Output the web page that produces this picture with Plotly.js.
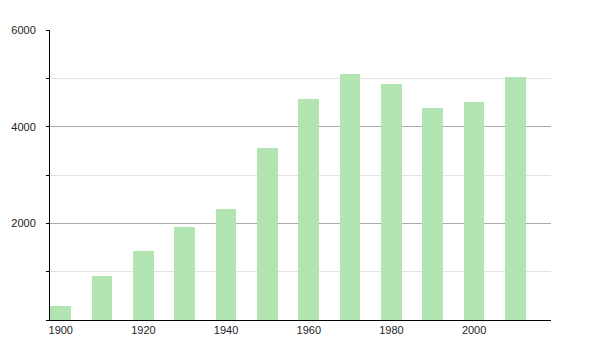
<!DOCTYPE html>
<html>
<head>
<meta charset="utf-8">
<script src="https://cdn.plot.ly/plotly-3.0.1.min.js"></script>
<style>html,body{margin:0;padding:0;background:#fff;}#chart{width:600px;height:350px;}</style>
</head>
<body>
<div id="chart"></div>
<script>
var years = [1900, 1910, 1920, 1930, 1940, 1950, 1960, 1970, 1980, 1990, 2000, 2010];
var population = [290, 910, 1427, 1923, 2289, 3557, 4571, 5088, 4881, 4385, 4509, 5026];
var xTickYears = [1900, 1920, 1940, 1960, 1980, 2000];
var yTickValues = [2000, 4000, 6000];

var trace = {
  type: 'bar',
  x: years,
  y: population,
  width: 5,
  marker: {color: '#b1e4b1', line: {width: 0}},
  hoverinfo: 'x+y'
};

var layout = {
  width: 600,
  height: 350,
  margin: {l: 50, r: 49, t: 30, b: 30},
  paper_bgcolor: '#ffffff',
  plot_bgcolor: '#ffffff',
  showlegend: false,
  font: {family: 'Liberation Sans, Arial, sans-serif', size: 11, color: '#222'},
  bargap: 0,
  xaxis: {
    range: [1897.4, 2018.6],
    tickvals: xTickYears,
    ticktext: xTickYears.map(String),
    showgrid: false,
    zeroline: false,
    showline: true,
    linecolor: '#000',
    linewidth: 1,
    ticks: '',
    ticklabelstandoff: 0,
    fixedrange: true
  },
  yaxis: {
    range: [0, 6000],
    tickvals: yTickValues,
    ticktext: yTickValues.map(String),
    showgrid: true,
    gridcolor: '#aaaaaa',
    gridwidth: 1,
    zeroline: false,
    showline: true,
    linecolor: '#000',
    linewidth: 1,
    ticks: 'outside',
    ticklen: 3,
    tickcolor: '#000',
    ticklabelstandoff: 8,
    minor: {dtick: 1000, tick0: 0, showgrid: true, gridcolor: '#e3e3e3', ticks: 'outside', ticklen: 3, tickcolor: '#000'},
    fixedrange: true
  }
};

Plotly.newPlot('chart', [trace], layout, {displayModeBar: false, staticPlot: true});
</script>
</body>
</html>
